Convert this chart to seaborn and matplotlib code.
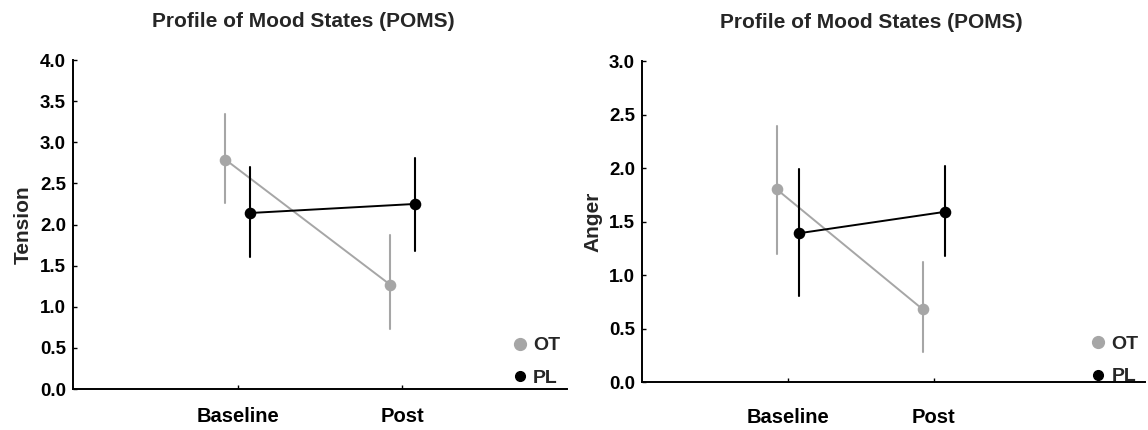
import numpy as np
import pandas as pd
import matplotlib
matplotlib.use("Agg")
import matplotlib.pyplot as plt
from matplotlib.lines import Line2D
import seaborn as sns

# ---- data ----
times = ["Baseline", "Post"]
groups = ["OT", "PL"]

tension_ot_mean = [2.79, 1.27]
tension_ot_low = [2.26, 0.73]
tension_ot_high = [3.34, 1.87]
tension_pl_mean = [2.14, 2.25]
tension_pl_low = [1.60, 1.68]
tension_pl_high = [2.70, 2.81]

anger_ot_mean = [1.80, 0.68]
anger_ot_low = [1.20, 0.28]
anger_ot_high = [2.39, 1.12]
anger_pl_mean = [1.39, 1.59]
anger_pl_low = [0.80, 1.18]
anger_pl_high = [1.99, 2.02]

title = "Profile of Mood States (POMS)"


def build_frame(ot_mean, ot_low, ot_high, pl_mean, pl_low, pl_high):
    rows = []
    for g, m, lo, hi in [("OT", ot_mean, ot_low, ot_high), ("PL", pl_mean, pl_low, pl_high)]:
        for i, t in enumerate(times):
            for v in (lo[i], m[i], hi[i]):
                rows.append({"time": t, "group": g, "value": v})
    return pd.DataFrame(rows)


df_tension = build_frame(tension_ot_mean, tension_ot_low, tension_ot_high,
                         tension_pl_mean, tension_pl_low, tension_pl_high)
df_anger = build_frame(anger_ot_mean, anger_ot_low, anger_ot_high,
                       anger_pl_mean, anger_pl_low, anger_pl_high)

sns.set_theme(style="ticks")
plt.rcParams["font.family"] = ["Liberation Sans", "DejaVu Sans"]
plt.rcParams["font.weight"] = "bold"
plt.rcParams["axes.labelweight"] = "bold"

palette = {"OT": "#a6a6a6", "PL": "#000000"}

fig = plt.figure(figsize=(11.48, 4.30), dpi=100)
ax1 = fig.add_axes([0.0636, 0.0953, 0.4303, 0.7651])
ax2 = fig.add_axes([0.5592, 0.1116, 0.4382, 0.7465])


def draw(ax, df, ylabel, ymax, xright, title_x, xpad, leg_y):
    sns.pointplot(data=df, x="time", y="value", hue="group", order=times,
                  hue_order=groups, palette=palette, estimator="median",
                  errorbar=lambda v: (v.min(), v.max()), dodge=0.15,
                  markers="o", linestyles="-", markersize=7.3, linewidth=1.4,
                  err_kws={"linewidth": 1.5}, ax=ax)
    ax.set_xlim(-1.0, xright)
    ax.set_ylim(0, ymax)
    ax.set_yticks(np.arange(0, ymax + 0.01, 0.5))
    ax.set_yticklabels([f"{v:.1f}" for v in np.arange(0, ymax + 0.01, 0.5)])
    ax.set_xlabel("")
    ax.set_ylabel(ylabel, fontsize=15, fontweight="bold", labelpad=5)
    ax.tick_params(axis="both", direction="in", length=3, width=1, colors="black")
    ax.tick_params(axis="y", labelsize=13.5, pad=5)
    ax.tick_params(axis="x", labelsize=14.5, pad=xpad)
    for lab in ax.get_xticklabels() + ax.get_yticklabels():
        lab.set_fontweight("bold")
    for s in ["top", "right"]:
        ax.spines[s].set_visible(False)
    for s in ["left", "bottom"]:
        ax.spines[s].set_linewidth(1.4)
        ax.spines[s].set_color("black")
    ax.set_title(title, fontsize=15, fontweight="bold", x=title_x, pad=24)
    if ax.get_legend() is not None:
        ax.get_legend().remove()
    handles = [Line2D([], [], linestyle="none", marker="o", color=palette["OT"], markersize=8.5),
               Line2D([], [], linestyle="none", marker="o", color=palette["PL"], markersize=7)]
    ax.legend(handles, groups, loc="lower right", bbox_to_anchor=(1.01, leg_y),
              frameon=False, handletextpad=0.1, handlelength=1.2,
              labelspacing=0.78, borderaxespad=0.2,
              prop={"size": 14, "weight": "bold"})


draw(ax1, df_tension, "Tension", 4.0, 2.0, 0.466, 13, -0.03)
draw(ax2, df_anger, "Anger", 3.0, 2.45, 0.455, 19, -0.047)

fig.savefig("out.png", dpi=100)
